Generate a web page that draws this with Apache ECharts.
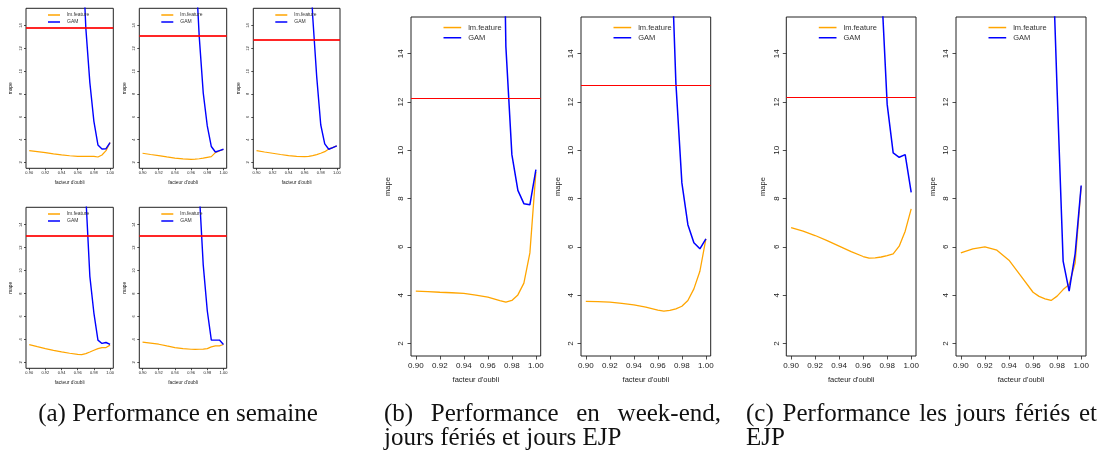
<!DOCTYPE html>
<html><head><meta charset="utf-8">
<script src="https://cdn.jsdelivr.net/npm/echarts@6/dist/echarts.min.js"></script>
<style>html,body{margin:0;padding:0;background:#fff}#c{width:1105px;height:452px}</style>
</head><body><div id="c"></div>
<script>
// ---------- data ----------
const X_LM  = [0.90,0.91,0.92,0.93,0.94,0.95,0.96,0.965,0.97,0.975,0.98,0.985,0.99,0.995,1.00];
const X_GAM = [0.96,0.965,0.97,0.975,0.98,0.985,0.99,0.995,1.00];

const LM_A1  = [3.03,2.95,2.86,2.75,2.65,2.58,2.53,2.52,2.53,2.53,2.53,2.47,2.65,3.03,3.74];
const GAM_A1 = [30,22,13.8,9.0,5.6,3.53,3.18,3.2,3.74];
const LM_A2  = [2.8,2.69,2.59,2.48,2.38,2.31,2.27,2.28,2.32,2.37,2.44,2.5,2.85,3.0,3.15];
const GAM_A2 = [30,20,13.1,8.1,5.2,3.39,2.91,3.03,3.15];
const LM_A3  = [3.03,2.91,2.8,2.69,2.59,2.53,2.5,2.52,2.59,2.68,2.8,2.94,3.18,3.3,3.45];
const GAM_A3 = [30,22,14.8,9.5,5.3,3.62,3.15,3.3,3.45];
const LM_A4  = [3.55,3.37,3.2,3.05,2.91,2.79,2.7,2.67,2.76,2.9,3.05,3.2,3.29,3.29,3.5];
const GAM_A4 = [40,25,16.5,9.5,6.3,3.94,3.65,3.73,3.56];
const LM_A5  = [3.76,3.67,3.58,3.43,3.29,3.2,3.14,3.13,3.14,3.16,3.2,3.35,3.44,3.44,3.56];
const GAM_A5 = [45,30,17.0,10.5,6.5,3.94,3.94,3.94,3.56];
const LM_B1  = [4.17,4.15,4.12,4.1,4.07,4.0,3.92,3.85,3.77,3.71,3.78,4.01,4.5,5.75,9.1];
const GAM_B1 = [45,35,30,14.3,9.82,8.34,7.79,7.74,9.2];
const LM_B2  = [3.74,3.73,3.71,3.66,3.6,3.5,3.38,3.34,3.37,3.43,3.54,3.78,4.26,4.99,6.33];
const GAM_B2 = [40,30,20,12.8,8.65,6.92,6.17,5.92,6.33];
const LM_C1  = [6.8,6.65,6.47,6.26,6.03,5.8,5.6,5.53,5.54,5.58,5.64,5.71,6.03,6.65,7.57];
const GAM_C1 = [45,35,25,17,11.9,9.89,9.71,9.82,8.26];
const LM_C2  = [5.75,5.92,6.0,5.86,5.45,4.79,4.12,3.95,3.85,3.78,3.96,4.23,4.44,5.34,8.51];
const GAM_C2 = [50,40,30,20,12.5,5.41,4.17,5.72,8.54];

const LM_ALL  = [LM_A1,LM_A2,LM_A3,LM_A4,LM_A5,LM_B1,LM_B2,LM_C1,LM_C2];
const GAM_ALL = [GAM_A1,GAM_A2,GAM_A3,GAM_A4,GAM_A5,GAM_B1,GAM_B2,GAM_C1,GAM_C2];
const REF_MAPE = [13.77,13.09,12.74,13.08,13.02,12.14,12.70,12.21,null];

const X_TICKS = [0.90,0.92,0.94,0.96,0.98,1.00];
const Y_TICKS = [2,4,6,8,10,12,14];
const SERIES_NAMES = ['lm.feature','GAM'];
const X_NAME = "facteur d'oubli";
const Y_NAME = 'mape';

// ---------- layout (style only) ----------
const LAYOUT = [
  {l:26,   t:8.3,  w:87.3,  h:160, s:true},
  {l:139.3,t:8.3,  w:87.4,  h:160, s:true},
  {l:253.3,t:8.3,  w:86.7,  h:160, s:true},
  {l:26,   t:207.3,w:87.3,  h:161, s:true},
  {l:139.3,t:207.3,w:87.4,  h:161, s:true},
  {l:411,  t:17,   w:129.7, h:339, s:false},
  {l:581,  t:17,   w:129.7, h:339, s:false},
  {l:786.3,t:17,   w:129.7, h:339, s:false},
  {l:956,  t:17,   w:130,   h:339, s:false}
];
const SMALL = {tick:4, name:4.8, leg:5, tickLen:2, xMargin:3, yMargin:3, xGap:12, yGap:12.5,
  lw:1.2, redW:2, legDx:22, legRow1:6.7, legW:12, legRow:7};
const BIG = {tick:8, name:7.5, leg:7.5, tickLen:3.5, xMargin:6, yMargin:6, xGap:19.5, yGap:19,
  lw:1.3, redW:1.2, legDx:32.5, legRow1:10.3, legW:17.7, legRow:9.7};

const SANS = '"Liberation Sans", Arial, sans-serif';
const grids=[], xAxes=[], yAxes=[], series=[], legends=[];
LAYOUT.forEach((L,i)=>{
  const S = L.s ? SMALL : BIG;
  grids.push({left:L.l, top:L.t, width:L.w, height:L.h, show:true, borderColor:'#222', borderWidth:1, backgroundColor:'transparent'});
  xAxes.push({type:'value', gridIndex:i, min:0.896, max:1.004,
    axisLine:{show:false}, splitLine:{show:false},
    axisTick:{show:true, customValues:X_TICKS, length:S.tickLen, lineStyle:{color:'#222', width:0.8}},
    axisLabel:{customValues:X_TICKS, formatter:v=>v.toFixed(2), fontSize:S.tick, margin:S.xMargin, color:'#222', fontFamily:SANS},
    name:X_NAME, nameLocation:'middle', nameGap:S.xGap, nameTextStyle:{fontSize:S.name, color:'#222', fontFamily:SANS}});
  yAxes.push({type:'value', gridIndex:i, min:1.48, max:15.52,
    axisLine:{show:false}, splitLine:{show:false},
    axisTick:{show:true, customValues:Y_TICKS, length:S.tickLen, lineStyle:{color:'#222', width:0.8}},
    axisLabel:{customValues:Y_TICKS, rotate:90, fontSize:S.tick, margin:S.yMargin, color:'#222', fontFamily:SANS},
    name:Y_NAME, nameLocation:'middle', nameGap:S.yGap, nameTextStyle:{fontSize:S.name, color:'#222', fontFamily:SANS}});
  const lm = {name:SERIES_NAMES[0], type:'line', xAxisIndex:i, yAxisIndex:i, symbol:'none', showSymbol:false, clip:true,
    lineStyle:{color:'#FFA500', width:S.lw}, itemStyle:{color:'#FFA500'},
    data:X_LM.map((x,k)=>[x, LM_ALL[i][k]])};
  if (REF_MAPE[i] != null) {
    lm.markLine = {silent:true, symbol:['none','none'], label:{show:false}, animation:false,
      lineStyle:{color:'#FF0000', width:S.redW, type:'solid', opacity:L.s?0.85:1}, data:[{yAxis:REF_MAPE[i]}]};
  }
  series.push(lm);
  series.push({name:SERIES_NAMES[1], type:'line', xAxisIndex:i, yAxisIndex:i, symbol:'none', showSymbol:false, clip:true,
    lineStyle:{color:'#0000FF', width:S.lw+0.2}, itemStyle:{color:'#0000FF'},
    data:X_GAM.map((x,k)=>[x, GAM_ALL[i][k]])});
  legends.push({orient:'vertical', left:L.l+S.legDx, top:L.t+S.legRow1-S.leg/2, padding:0,
    itemGap:S.legRow-S.leg, itemWidth:S.legW, itemHeight:1.5, icon:'rect', selectedMode:false,
    data:SERIES_NAMES, textStyle:{fontSize:S.leg, color:'#333', fontFamily:SANS, padding:[0,0,0,2]}});
});

// ---------- captions ----------
const CAP_FONT_SIZE = 25;
const CAP_FONT = CAP_FONT_SIZE + 'px "Liberation Serif", "Times New Roman", serif';
const ctx = document.createElement('canvas').getContext('2d');
ctx.font = CAP_FONT;
const graphics = [];
function txt(t, x, y, align){
  graphics.push({type:'text', x:x, y:y, silent:true,
    style:{text:t, font:CAP_FONT, fill:'#111', textAlign:align||'left', textVerticalAlign:'middle'}});
}
function justify(words, left, right, y){
  const ws = words.map(w=>ctx.measureText(w).width);
  const tot = ws.reduce((a,b)=>a+b,0);
  const gap = (right-left-tot)/(words.length-1);
  let x = left;
  words.forEach((w,k)=>{ txt(w, x, y); x += ws[k]+gap; });
}
txt('(a) Performance en semaine', 178, 414, 'center');
justify(['(b)','Performance','en','week-end,'], 384, 721, 414);
txt('jours fériés et jours EJP', 384, 438);
justify(['(c)','Performance','les','jours','fériés','et'], 746, 1097, 414);
txt('EJP', 746, 438);

const chart = echarts.init(document.getElementById('c'), null, {renderer:'canvas'});
chart.setOption({animation:false, backgroundColor:'#fff', grid:grids, xAxis:xAxes, yAxis:yAxes,
  series:series, legend:legends, graphic:graphics});
</script></body></html>
